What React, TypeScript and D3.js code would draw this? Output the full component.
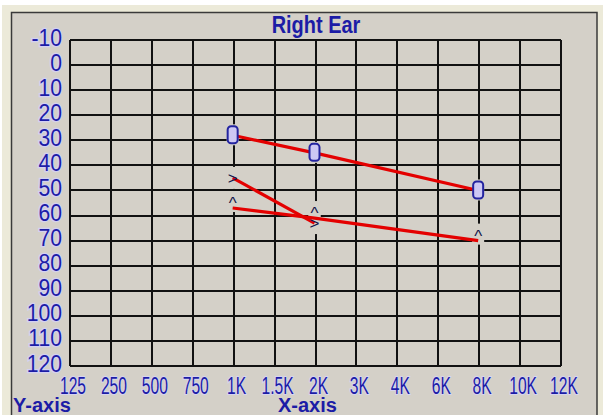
import React from "react";
import * as d3 from "d3";

const X_LABELS = ["125", "250", "500", "750", "1K", "1.5K", "2K", "3K", "4K", "6K", "8K", "10K", "12K"];
const Y_TICKS = [-10, 0, 10, 20, 30, 40, 50, 60, 70, 80, 90, 100, 110, 120];

// "0" markers
const airFreqs = ["1K", "2K", "8K"];
const airValues = [28, 35, 50];
// ">" markers
const boneFreqs = ["1K", "2K"];
const boneValues = [45, 63];
// "^" markers
const caretFreqs = ["1K", "2K", "8K"];
const caretValues = [57, 61, 70];

const TITLE = "Right Ear";
const FONT = "'Liberation Sans', Arial, sans-serif";
const BLUE = "#1c1ca6";
const PANEL = "#d4d0c8";

export default function App() {
  const W = 603, H = 415;
  const x = d3.scalePoint<string>().domain(X_LABELS).range([70, 561]);
  const y = d3.scaleLinear().domain([-10, 120]).range([40, 366]);
  const line = d3.line<[string, number]>().x((d) => x(d[0])! - 1).y((d) => y(d[1]));

  const air = airFreqs.map((f, i) => [f, airValues[i]] as [string, number]);
  const bone = boneFreqs.map((f, i) => [f, boneValues[i]] as [string, number]);
  const caret = caretFreqs.map((f, i) => [f, caretValues[i]] as [string, number]);

  const [x0, x1] = x.range();
  const [y0, y1] = y.range();

  return (
    <svg width={W} height={H} style={{ position: "absolute", left: 0, top: 0 }} xmlns="http://www.w3.org/2000/svg">
      <rect x={0} y={0} width={W} height={H} fill="#ffffff" />
      <rect x={2} y={5} width={W} height={H} fill="#ecead9" />
      <rect x={11.5} y={12.5} width={585.5} height={H} fill={PANEL} stroke="#3a3a3a" strokeWidth={1.5} />

      {/* title */}
      <text transform="translate(316,33) scale(0.95,1.1)" textAnchor="middle" fontFamily={FONT} fontWeight="bold" fontSize={21} fill={BLUE}>{TITLE}</text>

      {/* grid */}
      <g stroke="#111" strokeWidth={2} shapeRendering="crispEdges">
        {X_LABELS.map((l) => (
          <line key={"v" + l} x1={x(l)} x2={x(l)} y1={y0} y2={y1} />
        ))}
        {Y_TICKS.map((t) => (
          <line key={"h" + t} x1={x0} x2={x1} y1={y(t)} y2={y(t)} />
        ))}
      </g>

      {/* y labels */}
      <g fontFamily={FONT} fontSize={23} fill={BLUE} textAnchor="end" stroke="#d2d0f2" strokeWidth={2.5} style={{ paintOrder: "stroke" }}>
        {Y_TICKS.map((t) => (
          <text key={"yl" + t} transform={`translate(62,${y(t) + 5.5}) scale(0.92,1)`}>{t}</text>
        ))}
      </g>

      {/* x labels */}
      <g fontFamily={FONT} fontSize={23} fill={BLUE} textAnchor="middle" stroke="#d6d4f0" strokeWidth={2} style={{ paintOrder: "stroke" }}>
        {X_LABELS.map((l) => (
          <text key={"xl" + l} transform={`translate(${x(l)! + 3},394) scale(0.68,1.05)`}>{l}</text>
        ))}
      </g>

      {/* marker backgrounds (hide grid under glyphs) */}
      <g fill={PANEL}>
        {air.map((d) => (
          <rect key={"ab" + d[0]} x={x(d[0])! - 7} y={y(d[1]) - 11} width={12} height={21} />
        ))}
        {bone.map((d) => (
          <rect key={"bb" + d[0]} x={x(d[0])! - 7} y={y(d[1]) - 11} width={12} height={22} />
        ))}
        {caret.map((d) => (
          <rect key={"cb" + d[0]} x={x(d[0])! - 7} y={y(d[1]) - 17} width={12} height={21} />
        ))}
      </g>

      {/* lines */}
      <g fill="none" stroke="#e40000" strokeWidth={3.2} strokeLinejoin="round">
        <path d={line(air)!} />
        <path d={line(bone)!} />
        <path d={line(caret)!} />
      </g>

      {/* markers */}
      {air.map((d) => (
        <rect key={"am" + d[0]} x={x(d[0])! - 6} y={y(d[1]) - 9} width={10} height={17} rx={3.5}
          fill="#cdc8f4" stroke="#2424a0" strokeWidth={2} />
      ))}
      <g fontFamily={FONT} fontSize={17} fill="#15154a" textAnchor="middle">
        {bone.map((d) => (
          <text key={"bm" + d[0]} x={x(d[0])! - 1} y={y(d[1]) + 6}>{">"}</text>
        ))}
        {caret.map((d) => (
          <text key={"cm" + d[0]} x={x(d[0])! - 1} y={y(d[1]) + 1}>{"^"}</text>
        ))}
      </g>

      {/* axis captions */}
      <text x={13} y={411.5} fontFamily={FONT} fontWeight="bold" fontSize={20} fill={BLUE}>Y-axis</text>
      <text x={278} y={411.5} fontFamily={FONT} fontWeight="bold" fontSize={20} fill={BLUE}>X-axis</text>
    </svg>
  );
}
